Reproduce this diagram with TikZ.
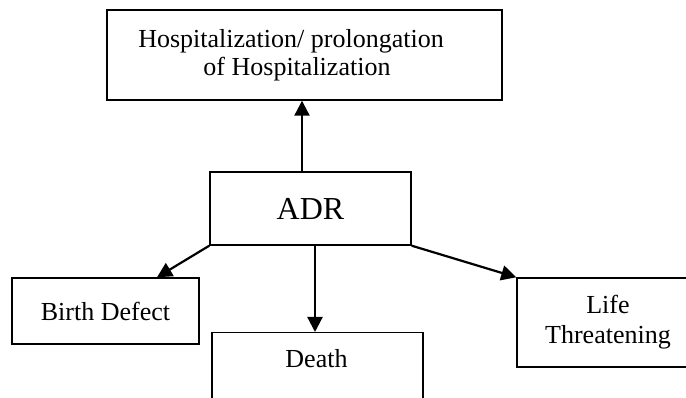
\documentclass[tikz,border=0pt]{standalone}
\usepackage{fontspec}
\setmainfont{Liberation Serif}
\usetikzlibrary{arrows.meta}
\tikzset{box/.style={draw, line width=1.4pt, rectangle, align=center, inner sep=0pt, font=\fontsize{26}{28}\selectfont},
  arr/.style={line width=2.2pt, -{Triangle[length=15pt,width=15pt]}}}

\begin{document}
\begin{tikzpicture}[x=1pt,y=-1pt]
    \useasboundingbox (0,0) rectangle (686,398);
    \clip (0,0) rectangle (686,398);
    \node[box, minimum width=395pt, minimum height=90pt] (hosp) at (304.5,55) {Hospitalization/ prolongation\hspace*{27pt}\\of Hospitalization\hspace*{15pt}};
    \node[box, minimum width=201pt, minimum height=73pt, font=\fontsize{32}{36}\selectfont] (adr) at (310.5,208.5) {ADR};
    \node[box, minimum width=187pt, minimum height=66pt] (birth) at (105.5,311) {Birth Defect};
    \node[box, minimum width=211pt, minimum height=90pt, anchor=north] (death) at (317.5,332) {};
    \node[font=\fontsize{26}{28}\selectfont, anchor=base, inner sep=0pt] (deathtxt) at (316.5,367) {Death};
    \node[box, minimum width=182pt, minimum height=89pt, font=\fontsize{26}{30}\selectfont] (life) at (608,322.5) {Life\\Threatening};
    \draw[arr] ([xshift=-8.5pt]adr.north) -- ([xshift=-2.5pt]hosp.south);
    \draw[arr] (adr.south west) -- ([xshift=51.5pt]birth.north);
    \draw[arr] ([xshift=4.5pt]adr.south) -- ([xshift=-2.5pt]death.north);
    \draw[arr] (adr.south east) -- (life.north west);
\end{tikzpicture}
\end{document}
